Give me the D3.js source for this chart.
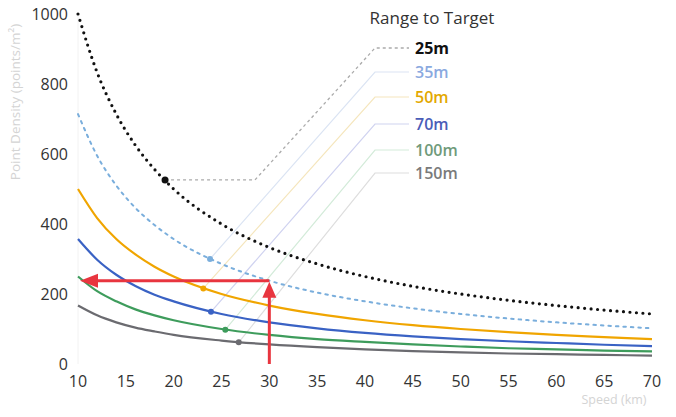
<!DOCTYPE html>
<html><head><meta charset="utf-8">
<script src="https://cdn.jsdelivr.net/npm/d3@7/dist/d3.min.js"></script>
<style>body{margin:0;background:#fff}svg{display:block}</style>
</head><body>
<svg id="c" width="676" height="417"></svg>
<script>
const speeds = [10,12,14,16,18,20,25,30,35,40,45,50,55,60,65,70];
const d25  = [1000,833,714,625,556,500,400,333,286,250,222,200,182,167,154,143];
const d35  = [714,595,510,446,397,357,286,238,204,179,159,143,130,119,110,102];
const d50  = [500,417,357,313,278,250,200,167,143,125,111,100,91,83,77,71];
const d70  = [357,298,255,223,198,179,143,119,102,89,79,71,65,60,55,51];
const d100 = [250,208,179,156,139,125,100,83,71,63,56,50,45,42,38,36];
const d150 = [167,139,119,104,93,83,67,56,48,42,37,33,30,28,26,24];
const rangeLabels = ["25m","35m","50m","70m","100m","150m"];
const markerSpeed = [19.1,23.8,23.1,23.9,25.4,26.8];
const markerValue = [526,300,216,149,98,62];
const xTicks = [10,15,20,25,30,35,40,45,50,55,60,65,70];
const yTicks = [0,200,400,600,800,1000];
const arrowSpeed = 30, arrowValue = 238, arrowEndSpeed = 10;

const series = [d25,d35,d50,d70,d100,d150];
const lineColors = ["#111","#7aaedc","#f0a500","#3a62c4","#3e9c5c","#6b6b70"];
const labelColors = ["#111","#8aa9df","#e3a800","#4a5db8","#6f9a7a","#7a7a7a"];
const leaderColors = ["#aaa","#dbe4f3","#f5e6bd","#d0d3f0","#d3ebd9","#dedede"];

const svg = d3.select("#c");
const x = d3.scaleLinear().domain([10,70]).range([78,652]);
const y = d3.scaleLinear().domain([0,1000]).range([364,14]);
const font = "'Open Sans', sans-serif";

svg.append("line").attr("x1",x(10)).attr("x2",x(10)).attr("y1",y(0)).attr("y2",y(1000))
  .attr("stroke","#f2f2f2").attr("stroke-width",1);

svg.append("g").selectAll("text").data(yTicks).join("text")
  .attr("x",68).attr("y",d=>y(d)).attr("dy","0.35em").attr("text-anchor","end")
  .attr("font-family",font).attr("font-size",16).attr("fill","#333").text(d=>d);
svg.append("g").selectAll("text").data(xTicks).join("text")
  .attr("x",d=>x(d)).attr("y",381).attr("dy","0.35em").attr("text-anchor","middle")
  .attr("font-family",font).attr("font-size",16).attr("fill","#333").text(d=>d);

svg.append("text").attr("transform","translate(20,102) rotate(-90)")
  .attr("text-anchor","middle").attr("font-family",font).attr("font-size",13.5)
  .attr("fill","#d4d4d4").text("Point Density (points/m²)");
svg.append("text").attr("x",614).attr("y",404).attr("text-anchor","middle")
  .attr("font-family",font).attr("font-size",12.5).attr("fill","#d4d4d4").text("Speed (km)");

const legX = 415, legY = [48,72,97,124,150,173], elbowX = 375;
svg.append("text").attr("x",432).attr("y",18).attr("dy","0.35em").attr("text-anchor","middle")
  .attr("font-family",font).attr("font-size",17).attr("fill","#333").text("Range to Target");

series.forEach((s,i)=>{
  const mx = x(markerSpeed[i]), my = y(markerValue[i]);
  const pts = i===0
    ? [[mx,my],[255,my],[elbowX,legY[i]],[legX-6,legY[i]]]
    : [[mx,my],[elbowX,legY[i]],[legX-6,legY[i]]];
  svg.append("path").attr("d",d3.line()(pts)).attr("fill","none")
    .attr("stroke",leaderColors[i]).attr("stroke-width",i===0?1.3:1.2)
    .attr("stroke-dasharray",i===0?"3 3":null);
});

const line = d3.line().x((d,i)=>x(speeds[i])).y(d=>y(d)).curve(d3.curveMonotoneX);
series.forEach((s,i)=>{
  const p = svg.append("path").attr("d",line(s)).attr("fill","none")
    .attr("stroke",lineColors[i]);
  if(i===0) p.attr("stroke-width",3.2).attr("stroke-dasharray","0 6.5").attr("stroke-linecap","round");
  else if(i===1) p.attr("stroke-width",2).attr("stroke-dasharray","2.5 5").attr("stroke-linecap","round");
  else p.attr("stroke-width",2.2);
});

svg.append("g").selectAll("circle").data(series).join("circle")
  .attr("cx",(d,i)=>x(markerSpeed[i])).attr("cy",(d,i)=>y(markerValue[i]))
  .attr("r",(d,i)=>i===0?3.5:3).attr("fill",(d,i)=>lineColors[i]);

svg.append("g").selectAll("text").data(rangeLabels).join("text")
  .attr("x",legX).attr("y",(d,i)=>legY[i]).attr("dy","0.35em")
  .attr("font-family",font).attr("font-size",16).attr("font-weight",(d,i)=>i===0?700:600)
  .attr("fill",(d,i)=>labelColors[i]).text(d=>d);

const red = "#e8353f";
const ax = x(arrowSpeed), ay = y(arrowValue);
svg.append("line").attr("x1",ax).attr("x2",ax).attr("y1",y(0)).attr("y2",ay+12)
  .attr("stroke",red).attr("stroke-width",3);
svg.append("path").attr("d",d3.line()([[ax,ay+1],[ax-7,ay+17],[ax+7,ay+17]])+"Z").attr("fill",red);
svg.append("line").attr("x1",ax).attr("x2",x(arrowEndSpeed)+12).attr("y1",ay).attr("y2",ay)
  .attr("stroke",red).attr("stroke-width",3);
svg.append("path").attr("d",d3.line()([[x(arrowEndSpeed)+2,ay],[x(arrowEndSpeed)+20,ay-7],[x(arrowEndSpeed)+20,ay+7]])+"Z").attr("fill",red);
</script>
</body></html>
